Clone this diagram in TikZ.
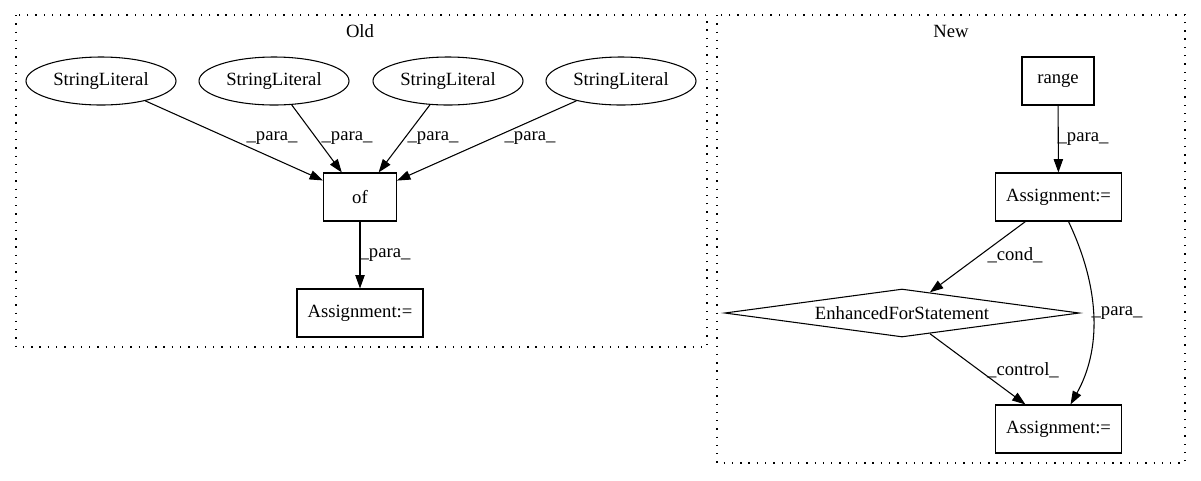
\documentclass[tikz,border=0pt]{standalone}
\usepackage{fontspec}
\setmainfont{Liberation Serif}
\usetikzlibrary{shapes.geometric,arrows.meta}
\begin{document}
\begin{tikzpicture}[x=0.75pt,y=-0.75pt,
  every node/.style={font=\fontsize{14}{16}\selectfont, inner sep=0pt},
  lit/.style={draw, ellipse, line width=0.8pt, minimum width=112.5pt, minimum height=36pt},
  box/.style={draw, rectangle, line width=0.8pt, minimum height=36pt},
  dia/.style={draw, diamond, aspect=7.4, line width=0.8pt, minimum width=266pt, minimum height=36pt},
  cluster/.style={draw, line width=0.9pt, dash pattern=on 1pt off 5.2pt},
  edge/.style={line width=0.8pt, -{Triangle[length=10pt,width=7pt]}},
  lbl/.style={anchor=center}]
\useasboundingbox (0,0) rectangle (1201,480);
% clusters
\draw[cluster] (16,15) rectangle (707,347);
\draw[cluster] (717,15) rectangle (1185,463);
\node (oldlbl) at (360,31) {Old};
\node (newlbl) at (951,31) {New};
% Old nodes
\node[lit] (s1) at (101,81) {StringLiteral};
\node[lit] (s2) at (274,81) {StringLiteral};
\node[lit] (s3) at (448,81) {StringLiteral};
\node[lit] (s4) at (621,81) {StringLiteral};
\node[box, minimum width=54.75pt] (of) at (360,197) {of};
\node[box, minimum width=94.5pt] (oa) at (360,313) {Assignment:=};
\draw[edge] (s1) -- (of);
\draw[edge] (s2) -- (of);
\draw[edge] (s3) -- (of);
\draw[edge] (s4) -- (of);
\draw[edge] (of) -- (oa);
\node (l1) at (272,138) {\_para\_};
\node (l2) at (347,138) {\_para\_};
\node (l3) at (433,138) {\_para\_};
\node (l4) at (530,138) {\_para\_};
\node (l5) at (385,255) {\_para\_};
% New nodes
\node[box, minimum width=54pt] (range) at (1058,81) {range};
\node[box, minimum width=94.5pt] (a1) at (1058.5,197) {Assignment:=};
\node[dia] (efs) at (902,313) {EnhancedForStatement};
\node[box, minimum width=94.5pt] (a2) at (1058.5,429) {Assignment:=};
\draw[edge] (range) -- (a1);
\draw[edge] (a1) -- (efs);
\draw[edge] (efs) -- (a2);
\draw[edge] ([xshift=7.5pt]a1.south) .. controls (1101,290) and (1101,350) .. ([xshift=9pt]a2.north);
\node (l6) at (1083,139) {\_para\_};
\node (l7) at (1015,255) {\_cond\_};
\node (l8) at (1117,313) {\_para\_};
\node (l9) at (1023,370) {\_control\_};
\end{tikzpicture}
\end{document}
